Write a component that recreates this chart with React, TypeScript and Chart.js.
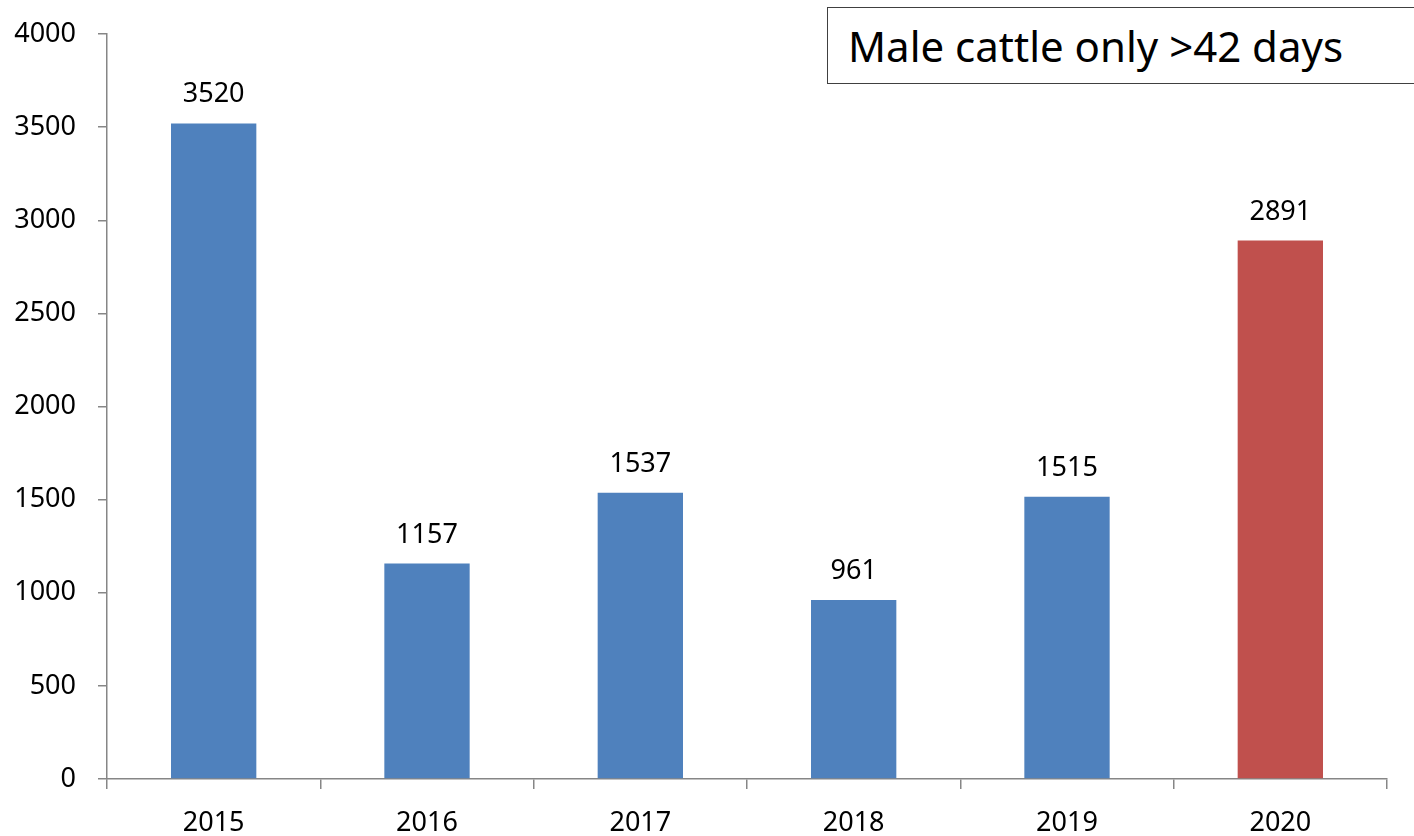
import React, { useEffect, useRef } from "react";
import { Chart, registerables } from "chart.js";

Chart.register(...registerables);

const categories = ["2015", "2016", "2017", "2018", "2019", "2020"];
const values = [3520, 1157, 1537, 961, 1515, 2891];
const barColors = ["#4F81BD", "#4F81BD", "#4F81BD", "#4F81BD", "#4F81BD", "#C0504D"];
const titleText = "Male cattle only >42 days";
const yMin = 0;
const yMax = 4000;
const yStep = 500;

const FONT = "'Noto Sans', 'DejaVu Sans', sans-serif";

const dataLabelPlugin = {
  id: "dataLabels",
  afterDatasetsDraw(chart: any) {
    const ctx = chart.ctx;
    const meta = chart.getDatasetMeta(0);
    ctx.save();
    ctx.font = `27px ${FONT}`;
    ctx.fillStyle = "#000";
    ctx.textAlign = "center";
    ctx.textBaseline = "alphabetic";
    meta.data.forEach((el: any, i: number) => {
      ctx.fillText(String(values[i]), el.x, el.y - 21);
    });
    ctx.restore();
  },
};

export default function App() {
  const ref = useRef<HTMLCanvasElement | null>(null);

  useEffect(() => {
    if (!ref.current) return;
    const chart = new Chart(ref.current, {
      type: "bar",
      data: {
        labels: categories,
        datasets: [
          {
            data: values,
            backgroundColor: barColors,
            borderWidth: 0,
            categoryPercentage: 1,
            barPercentage: 0.4,
          },
        ],
      },
      options: {
        responsive: false,
        animation: false,
        layout: { padding: { top: 34, right: 27, left: 0, bottom: 0 } },
        plugins: {
          legend: { display: false },
          tooltip: { enabled: false },
          title: { display: false },
        },
        scales: {
          x: {
            grid: {
              display: true,
              drawOnChartArea: false,
              drawTicks: true,
              tickLength: 10,
              color: "#868686",
              lineWidth: 1.5,
              offset: true,
            },
            border: { display: true, color: "#868686", width: 1.5 },
            ticks: {
              color: "#000",
              font: { family: FONT, size: 27 },
              padding: 18,
              maxRotation: 0,
            },
            afterFit(scale: any) {
              scale.height = 57;
              scale.paddingLeft = 0;
              scale.paddingRight = 0;
            },
          },
          y: {
            min: yMin,
            max: yMax,
            grid: {
              display: true,
              drawOnChartArea: false,
              drawTicks: true,
              tickLength: 9,
              color: "#868686",
              lineWidth: 1.5,
            },
            border: { display: true, color: "#868686", width: 1.5 },
            ticks: {
              stepSize: yStep,
              color: "#000",
              font: { family: FONT, size: 27 },
              padding: 22,
              callback: (v: any) => String(v),
            },
            afterFit(scale: any) {
              scale.width = 107;
              scale.paddingTop = 0;
              scale.paddingBottom = 0;
            },
          },
        },
      },
      plugins: [dataLabelPlugin],
    });
    return () => chart.destroy();
  }, []);

  return (
    <div
      style={{
        position: "fixed",
        left: 0,
        top: 0,
        width: 1414,
        height: 836,
        overflow: "hidden",
        background: "#fff",
      }}
    >
      <canvas ref={ref} width={1414} height={836} style={{ width: 1414, height: 836, display: "block" }} />
      <div
        style={{
          position: "absolute",
          left: 827,
          top: 7,
          width: 700,
          height: 77,
          border: "1.5px solid #404040",
          background: "#fff",
          boxSizing: "border-box",
        }}
      >
        <span
          style={{
            position: "absolute",
            left: 20,
            top: 13,
            fontFamily: FONT,
            fontSize: 42,
            lineHeight: "50px",
            color: "#000",
            whiteSpace: "nowrap",
          }}
        >
          {titleText}
        </span>
      </div>
    </div>
  );
}
